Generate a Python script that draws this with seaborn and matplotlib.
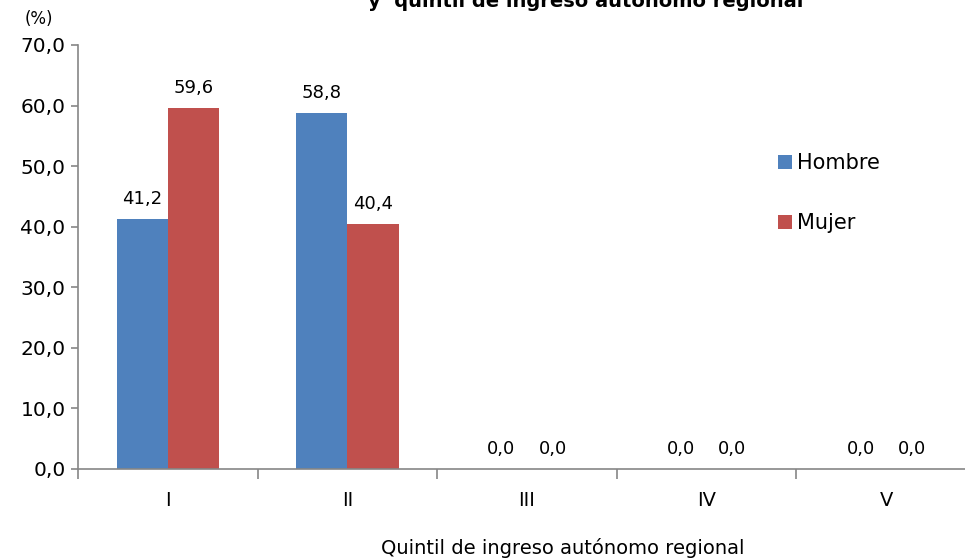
import pandas as pd
import matplotlib
matplotlib.use('Agg')
import matplotlib.pyplot as plt
import seaborn as sns

# datos
quintiles = ['I', 'II', 'III', 'IV', 'V']
hombre = [41.2, 58.8, 0.0, 0.0, 0.0]
mujer = [59.6, 40.4, 0.0, 0.0, 0.0]
yticks = [0, 10, 20, 30, 40, 50, 60, 70]

df = pd.DataFrame({
    'quintil': quintiles * 2,
    'sexo': ['Hombre'] * len(quintiles) + ['Mujer'] * len(quintiles),
    'valor': hombre + mujer,
})

sns.set_style('white')
plt.rcParams['font.family'] = ['DejaVu Sans']
plt.rcParams['text.color'] = 'black'
plt.rcParams['xtick.labelcolor'] = 'black'
plt.rcParams['ytick.labelcolor'] = 'black'

fig = plt.figure(figsize=(9.65, 5.6), dpi=100)
ax = fig.add_axes([78 / 965, 91 / 560, 898 / 965, 424 / 560])

sns.barplot(data=df, x='quintil', y='valor', hue='sexo', order=quintiles,
            palette=['#4F81BD', '#C0504D'], width=0.57, saturation=1,
            errorbar=None, linewidth=0, ax=ax)

fmt = lambda v: f'{v:.1f}'.replace('.', ',')
for c in ax.containers:
    ax.bar_label(c, labels=[fmt(v) for v in c.datavalues], padding=8, fontsize=13,
                 color='black')

ax.set_ylim(0, 70)
ax.set_xlim(-0.5, 4.5)
ax.set_yticks(yticks)
ax.set_yticklabels([fmt(v) for v in yticks], fontsize=14.5)
ax.tick_params(axis='y', left=True, length=5, color='#868686', width=1.2, pad=4)
ax.set_xticks(range(len(quintiles)))
ax.set_xticklabels(quintiles, fontsize=14)
ax.set_xticks([i - 0.5 for i in range(len(quintiles) + 1)], minor=True)
ax.tick_params(axis='x', which='major', length=0, pad=16)
ax.tick_params(axis='x', which='minor', bottom=True, length=7, color='#868686', width=1.2)
ax.set_xlabel('')
ax.set_ylabel('')

for s in ['top', 'right']:
    ax.spines[s].set_visible(False)
for s in ['left', 'bottom']:
    ax.spines[s].set_color('#868686')
    ax.spines[s].set_linewidth(1.2)

ax.legend(title=None, loc='upper left', bbox_to_anchor=(770 / 965, 1 - 145 / 560),
          bbox_transform=fig.transFigure, frameon=False, fontsize=15,
          handlelength=0.65, handleheight=0.65, handletextpad=0.25, labelspacing=1.9,
          borderaxespad=0)

fig.text(563 / 965, 1 - 548 / 560, 'Quintil de ingreso autónomo regional',
         ha='center', va='center', fontsize=14)
fig.text(39 / 965, 1 - 19 / 560, '(%)', ha='center', va='center', fontsize=12)
# titulo: en la referencia solo se ve la parte baja de la segunda linea
fig.text(586 / 965, 1 - 7 / 560, 'y  quintil de ingreso autónomo regional',
         ha='center', va='baseline', fontsize=14, fontweight='bold')

fig.savefig('out.png', dpi=100)
